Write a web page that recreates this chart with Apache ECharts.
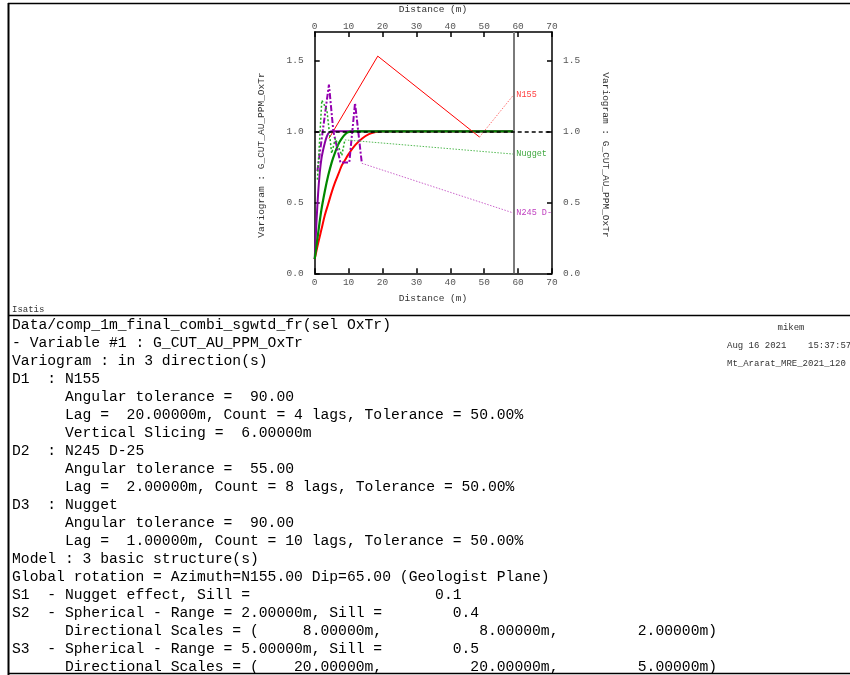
<!DOCTYPE html>
<html>
<head>
<meta charset="utf-8">
<script src="https://cdn.jsdelivr.net/npm/echarts@6/dist/echarts.min.js"></script>
<style>
  html, body { margin: 0; padding: 0; background: #fff; }
  #chart { width: 850px; height: 675px; }
</style>
</head>
<body>
<div id="chart"></div>
<script>
// Experimental variograms (lag distance in m, gamma)
const n155Lag = [4.2, 18.6, 48.6];
const n155Gamma = [0.95, 1.53, 0.96];
const n245Lag = [0.8, 4.2, 5.5, 7.6, 10.2, 11.9, 13.9];
const n245Gamma = [0.72, 1.33, 1.0, 0.78, 0.78, 1.2, 0.775];
const nuggetLag = [0.8, 2.1, 3.6, 5.0, 6.1, 8.0, 8.9];
const nuggetGamma = [0.66, 1.22, 1.15, 0.845, 0.95, 0.83, 0.94];

// Fitted model curves per direction
const modelN155Lag = [0, 1, 2, 3, 4, 5, 6, 7, 8, 9, 10, 12, 14, 16, 18, 19.5, 58.6];
const modelN155Gamma = [0.10, 0.21, 0.31, 0.41, 0.49, 0.57, 0.64, 0.70, 0.76, 0.80, 0.84, 0.905, 0.95, 0.98, 0.995, 1.0, 1.0];
const modelNuggetLag = [0, 1, 2, 3, 4, 5, 6, 7, 8, 9, 10, 11, 58.6];
const modelNuggetGamma = [0.10, 0.28, 0.45, 0.58, 0.69, 0.78, 0.85, 0.91, 0.95, 0.98, 0.995, 1.0, 1.0];
const modelN245Lag = [0, 0.5, 1, 1.5, 2, 2.5, 3, 3.5, 4, 4.5, 5, 58.6];
const modelN245Gamma = [0.10, 0.35, 0.56, 0.71, 0.81, 0.87, 0.92, 0.96, 0.985, 0.997, 1.0, 1.0];

// Direction labels at the label column
const directionNames = ['N155', 'Nugget', 'N245 D-'];
const labelGamma = [1.255, 0.84, 0.425];
const labelColumnX = 58.6;
const sillTotal = 1.0;

// Axis ticks
const distanceTicks = [0, 10, 20, 30, 40, 50, 60, 70];
const gammaTicks = ['0.0', '0.5', '1.0', '1.5'];

// Parameter listing
const infoLines = [
  'Data/comp_1m_final_combi_sgwtd_fr(sel OxTr)',
  '- Variable #1 : G_CUT_AU_PPM_OxTr',
  'Variogram : in 3 direction(s)',
  'D1  : N155',
  '      Angular tolerance =  90.00',
  '      Lag =  20.00000m, Count = 4 lags, Tolerance = 50.00%',
  '      Vertical Slicing =  6.00000m',
  'D2  : N245 D-25',
  '      Angular tolerance =  55.00',
  '      Lag =  2.00000m, Count = 8 lags, Tolerance = 50.00%',
  'D3  : Nugget',
  '      Angular tolerance =  90.00',
  '      Lag =  1.00000m, Count = 10 lags, Tolerance = 50.00%',
  'Model : 3 basic structure(s)',
  'Global rotation = Azimuth=N155.00 Dip=65.00 (Geologist Plane)',
  'S1  - Nugget effect, Sill =                     0.1',
  'S2  - Spherical - Range = 2.00000m, Sill =        0.4',
  '      Directional Scales = (     8.00000m,           8.00000m,         2.00000m)',
  'S3  - Spherical - Range = 5.00000m, Sill =        0.5',
  '      Directional Scales = (    20.00000m,          20.00000m,         5.00000m)'
];
const userName = 'mikem';
const stampLines = ['Aug 16 2021    15:37:57', 'Mt_Ararat_MRE_2021_120'];
const softwareName = 'Isatis';
const distanceTitle = 'Distance (m)';
const gammaTitle = 'Variogram : G_CUT_AU_PPM_OxTr';

const MONO = '"Liberation Mono", "DejaVu Sans Mono", monospace';

function pairs(xs, ys) { return xs.map((x, i) => [x, ys[i]]); }

const chart = echarts.init(document.getElementById('chart'), null, { renderer: 'canvas' });

const gridBox = { left: 314.7, right: 298, top: 32, bottom: 401.7 };

function xAxisDef(pos) {
  return {
    type: 'value', position: pos, min: distanceTicks[0], max: distanceTicks[distanceTicks.length - 1], interval: 10,
    axisLine: { show: true, onZero: false, lineStyle: { color: '#000', width: 1.5 } },
    axisTick: { show: true, inside: true, length: 5, lineStyle: { color: '#000', width: 1.5 } },
    axisLabel: { color: '#555', fontFamily: MONO, fontSize: 9.5, margin: pos === 'top' ? 1 : 4 },
    splitLine: { show: false }
  };
}
function yAxisDef(pos) {
  return {
    type: 'value', position: pos, min: 0, max: 1.7, interval: 0.5,
    axisLine: { show: true, onZero: false, lineStyle: { color: '#000', width: 1.5 } },
    axisTick: { show: true, inside: true, length: 5, lineStyle: { color: '#000', width: 1.5 } },
    axisLabel: {
      color: '#555', fontFamily: MONO, fontSize: 9.5, margin: 11, showMaxLabel: false,
      formatter: v => { const i = Math.round(v / 0.5); return Math.abs(v - i * 0.5) < 1e-6 ? gammaTicks[i] : ''; }
    },
    splitLine: { show: false }
  };
}

function pointerSeries(name, lags, gammas, labelY, lineColor, textColor) {
  return {
    type: 'line', name: name, xAxisIndex: 0, yAxisIndex: 0, showSymbol: false, symbol: 'none', silent: true, z: 3,
    data: [[lags[lags.length - 1], gammas[gammas.length - 1]], [labelColumnX, labelY]],
    lineStyle: { color: lineColor, width: 1, type: [1.5, 1.5] },
    endLabel: { show: true, formatter: name, color: textColor, fontFamily: MONO, fontSize: 8.5, distance: 3 }
  };
}

const textGraphics = infoLines.map((t, i) => ({
  type: 'text', x: 12, y: 325 + i * 18,
  style: { text: t, font: '14.7px ' + MONO, fill: '#000', verticalAlign: 'middle', align: 'left' }
}));

chart.setOption({
  animation: false,
  backgroundColor: '#fff',
  grid: gridBox,
  xAxis: [xAxisDef('bottom'), xAxisDef('top')],
  yAxis: [yAxisDef('left'), yAxisDef('right')],
  series: [
    // fitted models
    { type: 'line', name: 'model N155', data: pairs(modelN155Lag, modelN155Gamma), showSymbol: false, symbol: 'none',
      smooth: 0.35, lineStyle: { color: '#ff0000', width: 2 }, z: 2,
      markLine: { silent: true, symbol: 'none', label: { show: false },
        data: [{ xAxis: labelColumnX }], lineStyle: { color: '#7a7a7a', width: 2, type: 'solid' } } },
    { type: 'line', name: 'model N245', data: pairs(modelN245Lag, modelN245Gamma), showSymbol: false, symbol: 'none',
      smooth: 0.35, lineStyle: { color: '#8800a0', width: 2 }, z: 2 },
    { type: 'line', name: 'model Nugget', data: pairs(modelNuggetLag, modelNuggetGamma), showSymbol: false, symbol: 'none',
      smooth: 0.35, lineStyle: { color: '#008800', width: 2.2 }, z: 2 },
    // experimental variograms
    { type: 'line', name: 'N155', data: pairs(n155Lag, n155Gamma), showSymbol: false, symbol: 'none',
      lineStyle: { color: '#ff0000', width: 1 }, z: 3 },
    { type: 'line', name: 'N245 D-25', data: pairs(n245Lag, n245Gamma), showSymbol: false, symbol: 'none',
      lineStyle: { color: '#9400b0', width: 2, type: [6, 2, 2, 2] }, z: 3 },
    { type: 'line', name: 'Nugget', data: pairs(nuggetLag, nuggetGamma), showSymbol: false, symbol: 'none',
      lineStyle: { color: '#22aa22', width: 1.5, type: [2, 2] }, z: 3 },
    // pointers to direction labels
    pointerSeries(directionNames[0], n155Lag, n155Gamma, labelGamma[0], '#ff7070', '#ff4040'),
    pointerSeries(directionNames[1], nuggetLag, nuggetGamma, labelGamma[1], '#55bb55', '#40a840'),
    pointerSeries(directionNames[2], n245Lag, n245Gamma, labelGamma[2], '#cc66cc', '#c040c0'),
    // total sill
    { type: 'line', name: 'sill', data: [], z: 4,
      markLine: { silent: true, symbol: 'none', label: { show: false },
        data: [{ yAxis: sillTotal }], lineStyle: { color: '#000', width: 1.5, type: [4, 3] } } }
  ],
  graphic: [
    // frame
    { type: 'line', shape: { x1: 8, y1: 3.5, x2: 850, y2: 3.5 }, style: { stroke: '#000', lineWidth: 1.5 } },
    { type: 'line', shape: { x1: 8.5, y1: 3, x2: 8.5, y2: 675 }, style: { stroke: '#000', lineWidth: 2 } },
    { type: 'line', shape: { x1: 8, y1: 315.5, x2: 850, y2: 315.5 }, style: { stroke: '#000', lineWidth: 1.5 } },
    { type: 'line', shape: { x1: 8, y1: 673.5, x2: 850, y2: 673.5 }, style: { stroke: '#000', lineWidth: 1.5 } },
    // axis titles
    { type: 'text', x: 433, y: 9, style: { text: distanceTitle, font: '9.5px ' + MONO, fill: '#333', align: 'center', verticalAlign: 'middle' } },
    { type: 'text', x: 433, y: 298, style: { text: distanceTitle, font: '9.5px ' + MONO, fill: '#333', align: 'center', verticalAlign: 'middle' } },
    { type: 'text', x: 261, y: 155, rotation: Math.PI / 2, style: { text: gammaTitle, font: '9.5px ' + MONO, fill: '#333', align: 'center', verticalAlign: 'middle' } },
    { type: 'text', x: 606, y: 155, rotation: -Math.PI / 2, style: { text: gammaTitle, font: '9.5px ' + MONO, fill: '#333', align: 'center', verticalAlign: 'middle' } },
    // header / stamp
    { type: 'text', x: 12, y: 310, style: { text: softwareName, font: '9px ' + MONO, fill: '#333', verticalAlign: 'middle' } },
    { type: 'text', x: 791, y: 328, style: { text: userName, font: '9px ' + MONO, fill: '#333', align: 'center', verticalAlign: 'middle' } },
    { type: 'text', x: 727, y: 346, style: { text: stampLines[0], font: '9px ' + MONO, fill: '#333', verticalAlign: 'middle' } },
    { type: 'text', x: 727, y: 364, style: { text: stampLines[1], font: '9px ' + MONO, fill: '#333', verticalAlign: 'middle' } }
  ].concat(textGraphics)
});
</script>
</body>
</html>
